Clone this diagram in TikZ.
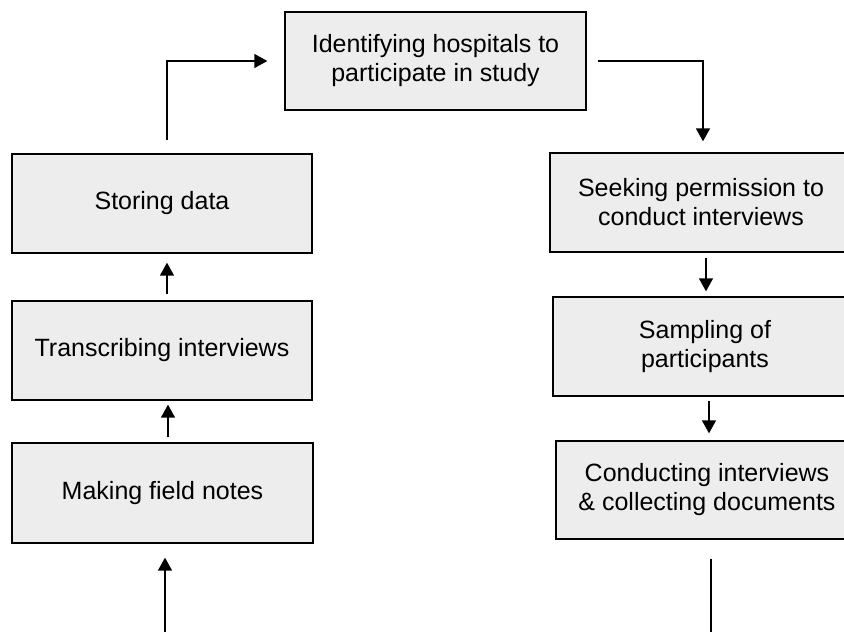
\documentclass[tikz,border=0pt]{standalone}
\usepackage{fontspec}
\setmainfont{Liberation Sans}
\usetikzlibrary{arrows.meta}
\definecolor{boxfill}{RGB}{237,237,237}
\tikzset{
  stagefont/.style={font=\fontsize{25}{29}\selectfont, align=center, inner sep=0pt},
  stage/.style={draw=black, line width=1.4pt, fill=boxfill, stagefont},
  caption/.style={stagefont},
  flow/.style={line width=1.6pt, -{Triangle[length=13pt,width=14pt]}},
  plain/.style={line width=1.6pt}
}
\begin{document}
\begin{tikzpicture}[x=1pt,y=-1pt]
  \useasboundingbox (0,0) rectangle (844,632);
  \clip (0,0) rectangle (844,632);
  \fill[white] (0,0) rectangle (844,632);

  % top stage
  \node[stage, minimum width=301pt, minimum height=98pt] (top) at (435.5,61)
    {Identifying hospitals to\\participate in study};

  % right column (boxes run past the right margin)
  \node[stage, minimum width=330pt, minimum height=99pt,
        label={[caption, xshift=-14pt]center:{Seeking permission to\\conduct interviews}}]
    (seek) at (715,202.5) {};
  \node[stage, minimum width=327pt, minimum height=99pt,
        label={[caption, xshift=-11.5pt]center:{Sampling of\\participants}}]
    (sample) at (716.5,346.5) {};
  \node[stage, minimum width=324pt, minimum height=98pt,
        label={[caption, xshift=-11pt]center:{Conducting interviews\\\& collecting documents}}]
    (conduct) at (718,490) {};

  % left column
  \node[stage, minimum width=300pt, minimum height=99pt] (store) at (162,203.5)
    {Storing data};
  \node[stage, minimum width=300pt, minimum height=99pt] (trans) at (162,350.5)
    {Transcribing interviews};
  \node[stage, minimum width=301pt, minimum height=100pt] (make) at (162.5,493)
    {Making field notes};

  % connector columns and loose ends
  \coordinate (colR1) at (703,0);
  \coordinate (colR2) at (706,0);
  \coordinate (colR3) at (709,0);
  \coordinate (outR) at (711,640);
  \coordinate (inL) at (165,640);
  \coordinate (colL1) at (168,0);
  \coordinate (colL2) at (167,0);

  % right-hand connectors
  \draw[flow, shorten <=11pt, shorten >=11pt] (top.east) -| (seek.north -| colR1);
  \draw[flow, shorten <=5pt, shorten >=5pt] (seek.south -| colR2) -- (sample.north -| colR2);
  \draw[flow, shorten <=4pt, shorten >=7pt] (sample.south -| colR3) -- (conduct.north -| colR3);
  \draw[plain, shorten <=19pt] (conduct.south -| outR) -- (outR);

  % left-hand connectors
  \draw[flow, shorten >=14pt] (inL) -- (inL |- make.south);
  \draw[flow, shorten <=5pt, shorten >=4pt] (make.north -| colL1) -- (trans.south -| colL1);
  \draw[flow, shorten <=6pt, shorten >=9pt] (trans.north -| colL2) -- (store.south -| colL2);
  \draw[flow, shorten <=13pt, shorten >=17pt] (store.north -| colL2) |- (top.west);
\end{tikzpicture}
\end{document}
